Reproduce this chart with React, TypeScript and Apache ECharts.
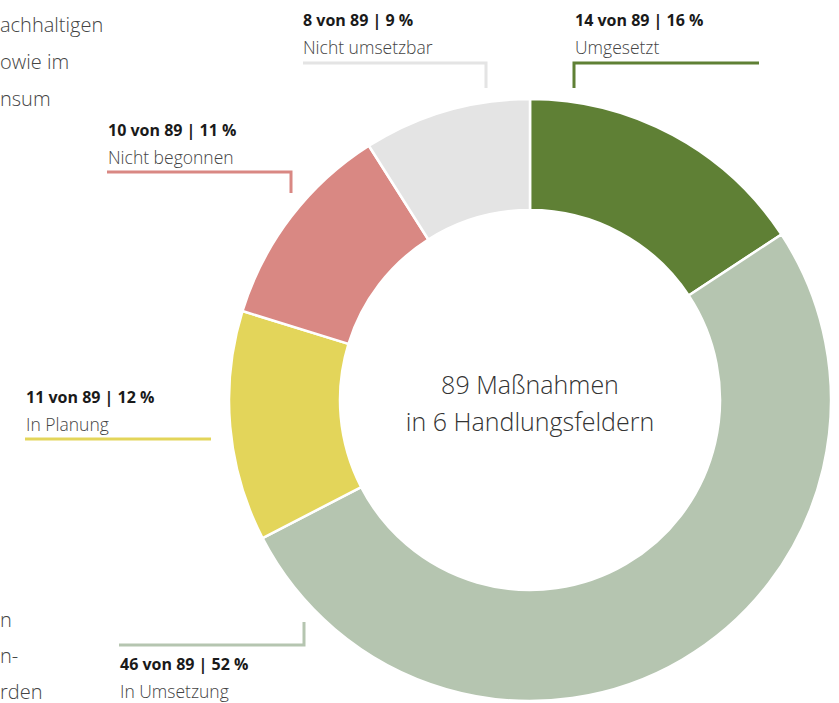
import React, { useEffect, useRef } from "react";
import * as echarts from "echarts";

const categories = ["Umgesetzt", "In Umsetzung", "In Planung", "Nicht begonnen", "Nicht umsetzbar"];
const values = [14, 46, 11, 10, 8];
const colors = ["#5f8035", "#b5c5b0", "#e3d55a", "#d98883", "#e4e4e4"];
const centerLines = ["89 Maßnahmen", "in 6 Handlungsfeldern"];
const sideTextTop = ["achhaltigen", "owie im", "nsum"];
const sideTextBottom = ["n", "n-", "rden"];

// label layout: text anchor (x, y of bold line center), leader polyline points
const labelLayout = [
  { tx: 575, ty: 20, pts: [[759, 63], [574, 63], [574, 88]] },
  { tx: 120, ty: 664, pts: [[304, 622], [304, 645], [119, 645]] },
  { tx: 26, ty: 397, pts: [[25, 439], [211, 439]] },
  { tx: 108, ty: 130, pts: [[107, 172], [291, 172], [291, 193]] },
  { tx: 303, ty: 20, pts: [[303, 63], [486, 63], [486, 88]] },
];

const FONT = "'Open Sans', 'Noto Sans', sans-serif";

export default function App() {
  const ref = useRef<HTMLDivElement>(null);
  useEffect(() => {
    if (!ref.current) return;
    const chart = echarts.init(ref.current, undefined, { renderer: "svg" });
    const total = values.reduce((a, b) => a + b, 0);
    const graphics: any[] = [];
    categories.forEach((c, i) => {
      const L = labelLayout[i];
      const pct = Math.round((values[i] / total) * 100);
      graphics.push({
        type: "polyline",
        shape: { points: L.pts },
        style: { stroke: colors[i], lineWidth: 3, fill: null },
        silent: true,
      });
      graphics.push({
        type: "text",
        x: L.tx,
        y: L.ty,
        style: {
          text: `${values[i]} von ${total} | ${pct} %`,
          font: `bold 16px ${FONT}`,
          fill: "#1a1a1a",
          textVerticalAlign: "middle",
          textAlign: "left",
        },
      });
      graphics.push({
        type: "text",
        x: L.tx,
        y: L.ty + 27,
        style: {
          text: c,
          font: `300 17.5px ${FONT}`,
          fill: "#444",
          textVerticalAlign: "middle",
          textAlign: "left",
        },
      });
    });
    centerLines.forEach((t, i) => {
      graphics.push({
        type: "text",
        x: 530,
        y: 384 + i * 37,
        style: {
          text: t,
          font: `300 25px ${FONT}`,
          fill: "#333",
          textAlign: "center",
          textVerticalAlign: "middle",
        },
      });
    });
    sideTextTop.forEach((t, i) => {
      graphics.push({
        type: "text",
        x: 0,
        y: 24 + i * 37,
        style: { text: t, font: `300 20px ${FONT}`, fill: "#444", textAlign: "left", textVerticalAlign: "middle" },
      });
    });
    sideTextBottom.forEach((t, i) => {
      graphics.push({
        type: "text",
        x: 0,
        y: 619 + i * 36,
        style: { text: t, font: `300 20px ${FONT}`, fill: "#444", textAlign: "left", textVerticalAlign: "middle" },
      });
    });
    chart.setOption({
      animation: false,
      backgroundColor: "#fff",
      series: [
        {
          type: "pie",
          center: [530, 400],
          radius: [190, 301],
          startAngle: 90,
          clockwise: true,
          label: { show: false },
          labelLine: { show: false },
          silent: true,
          itemStyle: { borderColor: "#fff", borderWidth: 2.5 },
          data: categories.map((c, i) => ({ name: c, value: values[i], itemStyle: { color: colors[i] } })),
        },
      ],
      graphic: graphics,
    });
    return () => chart.dispose();
  }, []);
  return <div ref={ref} style={{ position: "absolute", left: 0, top: 0, width: 839, height: 703 }} />;
}
